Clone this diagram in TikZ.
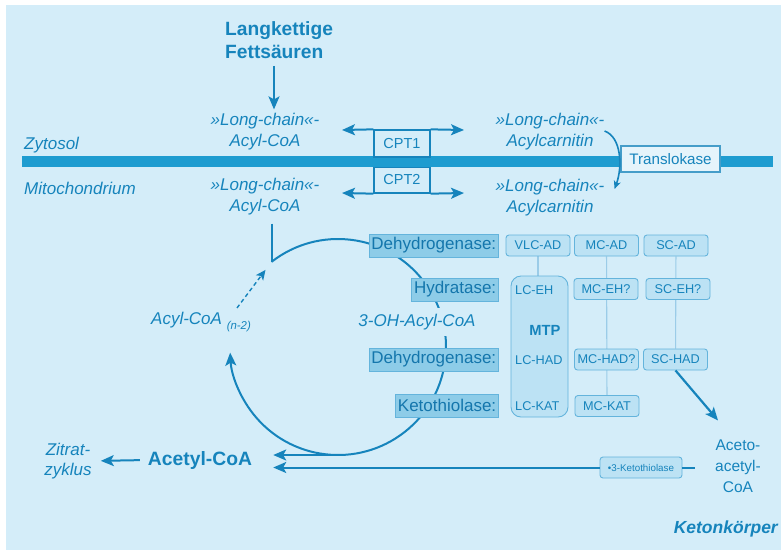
\documentclass[tikz,border=0pt]{standalone}
\usepackage{fontspec}
\setmainfont{Liberation Sans}
\usetikzlibrary{arrows.meta,backgrounds}

\definecolor{hgblau}{RGB}{212,237,249}
\definecolor{schrift}{RGB}{22,132,188}
\definecolor{dunkel}{RGB}{20,118,172}
\definecolor{membran}{RGB}{30,156,208}
\definecolor{enzdunkel}{RGB}{141,204,232}
\definecolor{enzhell}{RGB}{188,226,244}
\definecolor{rand}{RGB}{100,180,220}
\definecolor{duenn}{RGB}{155,204,232}

\begin{document}
\begin{tikzpicture}[x=1pt,y=-1pt,
    >={Stealth[length=13pt,width=11pt,inset=3pt]},
    txt/.style={text=schrift,inner sep=1pt,align=center,font=\fontsize{17}{21}\selectfont\itshape},
    pf/.style={draw=schrift,line width=2pt},
    cpt/.style={draw=schrift,line width=1.3pt,minimum width=56,inner sep=0pt,text=schrift,font=\fontsize{14.5}{15}\selectfont},
    lbl/.style={anchor=east,fill=enzdunkel,draw=rand,line width=0.6pt,minimum height=23,inner xsep=2.5pt,inner ysep=0pt,text=dunkel,font=\fontsize{17}{17}\selectfont},
    enz/.style={fill=enzhell,draw=rand,line width=0.9pt,rounded corners=3pt,minimum width=64,minimum height=21,inner sep=0pt,text=schrift,font=\fontsize{12.7}{13}\selectfont},
    klein/.style={inner sep=1pt,text=schrift,font=\fontsize{12.7}{13}\selectfont}]
    \useasboundingbox (0,0) rectangle (781,550);

    % Hintergrund
    \begin{scope}[on background layer]
        \fill[hgblau] (6,5) rectangle (781,550);
    \end{scope}

    % Membran
    \fill[membran] (22,156) rectangle (773,167);
    \node[txt,anchor=west] (zyto) at (23,145) {Zytosol};
    \node[txt,anchor=west] (mito) at (23,188) {Mitochondrium};

    % Fettsäuren und Acyl-CoA
    \node[txt,anchor=west,align=left,font=\fontsize{19.2}{23}\selectfont\bfseries] (fett) at (224,40) {Langkettige\\Fettsäuren};
    \node[txt] (lcaZ) at (265,132) {»Long-chain«-\\Acyl-CoA};
    \node[txt] (lcaM) at (265,197) {»Long-chain«-\\Acyl-CoA};
    \coordinate (fx) at (274,0);
    \draw[pf,->] ([yshift=-6pt]fett.south -| fx) -- ([yshift=3pt]lcaZ.north -| fx);

    % CPT1, CPT2
    \node[cpt,minimum height=27] (cpt1) at (402,143.5) {CPT1};
    \node[cpt,minimum height=26] (cpt2) at (402,180) {CPT2};
    \coordinate (c1l) at (342,130);
    \coordinate (c1r) at (464,130);
    \coordinate (c2l) at (342,193);
    \coordinate (c2r) at (464,193);
    \draw[pf,->] (cpt1.north west) -- (c1l);
    \draw[pf,->] (cpt1.north east) -- (c1r);
    \draw[pf,->] (cpt2.south west) -- (c2l);
    \draw[pf,->] (cpt2.south east) -- (c2r);
    \fill[membran] (cpt1.south west) rectangle ([yshift=-1pt]cpt2.north east);

    % Acylcarnitin und Translokase
    \node[txt] (carZ) at (550,132) {»Long-chain«-\\Acylcarnitin};
    \node[txt] (carM) at (550,198) {»Long-chain«-\\Acylcarnitin};
    \node[draw=schrift!80,fill=hgblau!60!white,line width=1.2pt,minimum width=99,minimum height=26,inner sep=0pt,text=schrift,font=\fontsize{15.2}{16}\selectfont] (transl) at (670.5,159) {Translokase};
    \draw[pf,line width=1.6pt,->,>={Stealth[length=8pt,width=7pt,inset=2pt]}] ([xshift=-1pt,yshift=1pt]carZ.east) .. controls +(17,6) and +(8,-22) .. ([xshift=9pt,yshift=9pt]carM.east);

    % Zyklus
    \coordinate (zm) at (338,347);
    \path (zm) ++(-128:108) coordinate (kstart);
    \path (zm) ++(90:108) coordinate (kunten);
    \draw[pf,->] (kstart) arc[start angle=-128,end angle=177,radius=108];
    \draw[pf] ([yshift=-7pt]lcaM.south -| kstart) -- (kstart);
    \node[txt] (acylN) at (201,322) {Acyl-CoA \raisebox{-5pt}{\fontsize{11.4}{12}\selectfont(n-2)}};
    \draw[pf,line width=1.4pt,dash pattern=on 4pt off 3pt,->,>={Stealth[length=10pt,width=9pt,inset=2.5pt]}] ([xshift=-15pt,yshift=3pt]acylN.north east) -- ([xshift=-6pt,yshift=-8pt]kstart);
    \node[txt,fill=hgblau,inner ysep=6pt] (ohacyl) at (417,322) {3-OH-Acyl-CoA};

    % Enzymklassen
    \node[lbl] (dh1) at (499,245.5) {Dehydrogenase:};
    \node[lbl] (hyd) at (499,289.5) {Hydratase:};
    \node[lbl] (dh2) at (499,359.5) {Dehydrogenase:};
    \node[lbl] (kth) at (499,405.5) {Ketothiolase:};

    % Enzyme
    \node[enz] (vlcad) at (538,245.5) {VLC-AD};
    \node[enz] (mcad) at (606.5,245.5) {MC-AD};
    \node[enz] (scad) at (676,245.5) {SC-AD};
    \node[enz,minimum width=57,minimum height=141,rounded corners=10pt] (mtp) at (539.5,346.5) {};
    \node[klein,anchor=west] (lceh) at (514,290) {LC-EH};
    \node[klein,font=\fontsize{14.7}{15}\selectfont\bfseries] (mtpt) at (545,330) {MTP};
    \node[klein,anchor=west] (lchad) at (514,360) {LC-HAD};
    \node[klein,anchor=west] (lckat) at (514,406) {LC-KAT};
    \node[enz] (mceh) at (606,289) {MC-EH?};
    \node[enz] (sceh) at (678,289) {SC-EH?};
    \node[enz] (mchad) at (606.5,359.5) {MC-HAD?};
    \node[enz] (schad) at (675.5,359.5) {SC-HAD};
    \node[enz] (mckat) at (607,406) {MC-KAT};
    \begin{scope}[on background layer]
        \draw[duenn,line width=1.1pt] (vlcad.south) -- (vlcad.south |- mtp.north);
        \draw[duenn,line width=1.1pt] (mcad) -- (mckat);
        \draw[duenn,line width=1.1pt] (scad) -- (schad);
    \end{scope}

    % Acetyl-CoA und Ketonkörper
    \node[txt,font=\fontsize{19.3}{20}\selectfont\bfseries] (acoa) at (200,460) {Acetyl-CoA};
    \node[txt,font=\fontsize{17}{20}\selectfont\itshape] (zitrat) at (68,461) {Zitrat-\\zyklus};
    \draw[pf,->,shorten <=7pt,shorten >=8pt] (acoa.west) -- (zitrat.east);
    \node[txt,font=\fontsize{15.5}{21}\selectfont] (aceto) at (738,466) {Aceto-\\acetyl-\\CoA};
    \node[enz,minimum width=82,font=\fontsize{9.8}{10}\selectfont] (k3) at (641,467.5) {•3-Ketothiolase};
    \coordinate (kend) at (695,467.5);
    \draw[pf,->] (kunten) -- ([xshift=20pt]acoa.east |- kunten);
    \draw[pf,->] (k3.west) -- ([xshift=20pt]acoa.east |- k3.west);
    \draw[pf] (k3.east) -- (kend);
    \draw[pf,line width=2.2pt,->] (schad.south) -- ([xshift=-20pt,yshift=18pt]aceto.north);
    \node[txt,anchor=east,font=\fontsize{17.5}{18}\selectfont\bfseries\itshape] (keton) at (779,529) {Ketonkörper};
\end{tikzpicture}
\end{document}
